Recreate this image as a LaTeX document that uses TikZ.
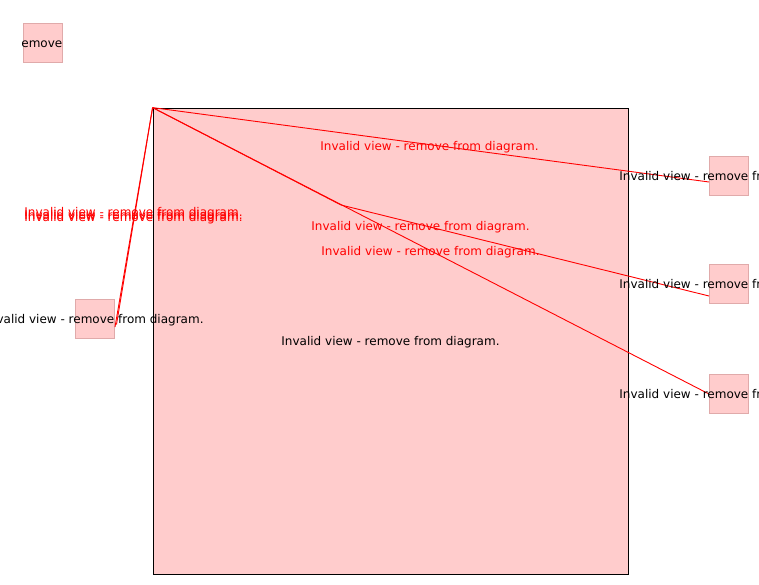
\documentclass[tikz,border=0pt]{standalone}
\usepackage{fontspec}
\setmainfont{DejaVu Sans}
\definecolor{boxpink}{HTML}{FFCCCC}
\definecolor{boxedge}{HTML}{E0AAAA}
\definecolor{linkred}{HTML}{FF0000}
\begin{document}
\begin{tikzpicture}[x=1pt,y=-1pt,
  every node/.style={font=\fontsize{12}{14}\selectfont, inner sep=0pt},
  bigbox/.style={draw=black, fill=boxpink, line width=0.8pt, minimum width=475pt, minimum height=466pt},
  smallbox/.style={draw=boxedge, fill=boxpink, line width=0.8pt, minimum width=39pt, minimum height=39pt},
  viewtext/.style={text=black},
  linktext/.style={text=linkred},
  link/.style={draw=linkred, line width=0.9pt}]
\useasboundingbox (0,0) rectangle (759,585);
\clip (0,0) rectangle (759,585);
% big view
\node[bigbox] (big) at (390.5,341) {};
% small views
\node[smallbox] (tl) at (42.5,42.5) {};
\node[smallbox] (lb) at (94.5,318.5) {};
\node[smallbox] (r1) at (728.5,175.5) {};
\node[smallbox] (r2) at (728.5,283.5) {};
\node[smallbox] (r3) at (728.5,393.5) {};
% connection points
\coordinate (src) at (big.north west);
\coordinate (bend) at (341,205);
\coordinate (e1) at (709,182);
\coordinate (e2) at (709,296);
\coordinate (e3) at (709,394);
\coordinate (l1) at (115,327);
\coordinate (l2) at (116.5,324.5);
% connectors
\draw[link] (src) -- (e1);
\draw[link] (src) -- (bend) -- (e2);
\draw[link] (src) -- (e3);
\draw[link] (src) -- (l1);
\draw[link] (src) -- (l2);
% texts
\node[viewtext] (tbig) at ([yshift=-1.5pt]big.center) {Invalid view - remove from diagram.};
\begin{scope}
\clip (tl.south west) rectangle (tl.north east);
\node[viewtext] (ttl) at ([yshift=-1.5pt]tl.center) {Invalid view - remove from diagram.};
\end{scope}
\node[viewtext] (tlb) at ([yshift=-1.5pt]lb.center) {Invalid view - remove from diagram.};
\node[viewtext] (tr1) at ([yshift=-1.5pt]r1.center) {Invalid view - remove from diagram.};
\node[viewtext] (tr2) at ([yshift=-1.5pt]r2.center) {Invalid view - remove from diagram.};
\node[viewtext] (tr3) at ([yshift=-1.5pt]r3.center) {Invalid view - remove from diagram.};
\node[linktext] (k1) at (429.5,147) {Invalid view - remove from diagram.};
\node[linktext] (k2) at (420.5,227) {Invalid view - remove from diagram.};
\node[linktext] (k3) at (430.5,252) {Invalid view - remove from diagram.};
\node[linktext] (k4) at (133.5,213.5) {Invalid view - remove from diagram.};
\node[linktext] (k5) at (133.5,216) {Invalid view - remove from diagram.};
\node[linktext] (k6) at (133.5,218.5) {Invalid view - remove from diagram.};
\end{tikzpicture}
\end{document}
